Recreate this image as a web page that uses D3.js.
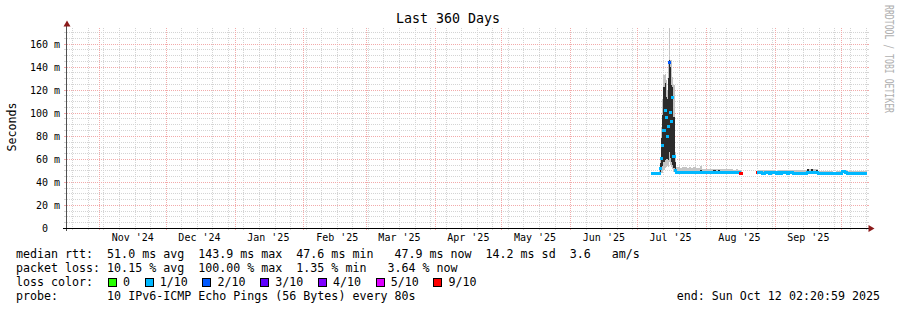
<!DOCTYPE html>
<html>
<head>
<meta charset="utf-8">
<script src="https://cdn.jsdelivr.net/npm/d3@7"></script>
<style>
  body { margin: 0; background: #fff; }
  svg { display: block; font-family: "DejaVu Sans Mono", monospace; }
  text { white-space: pre; }
</style>
</head>
<body>
<svg id="chart" width="897" height="310"></svg>
<script>
// --- data ---
const monthStarts = ["2024-11-01", "2024-12-01", "2025-01-01", "2025-02-01", "2025-03-01", "2025-04-01",
  "2025-05-01", "2025-06-01", "2025-07-01", "2025-08-01", "2025-09-01", "2025-10-01"];
const monthLabels = ["Nov '24", "Dec '24", "Jan '25", "Feb '25", "Mar '25", "Apr '25",
  "May '25", "Jun '25", "Jul '25", "Aug '25", "Sep '25"];
const yTicks = [0, 20, 40, 60, 80, 100, 120, 140, 160];

// rows: [median, min, lo, hi, max, lost pings of 10]  (ms)
const preRows = [
  [47.2, 46.7, 46.9, 47.5, 48.1, 1], [47.0, 46.6, 46.8, 47.3, 47.9, 1], [47.1, 46.7, 46.9, 47.4, 48.2, 1],
  [47.2, 46.8, 47.0, 47.5, 48.4, 1], [47.1, 46.7, 46.9, 47.5, 48.6, 1]
];
const spikeRows = [
  [47.3, 46.8, 47.0, 47.6, 48.3, 1], [47.5, 46.9, 47.1, 48.5, 52, 1], [52, 47, 48, 56, 62, 1],
  [60, 47.5, 50, 78, 88, 1], [72, 48, 54, 98, 112, 1], [85, 50, 57, 122, 133, 1],
  [102, 52, 59, 126, 134, 1], [96, 53, 60, 114, 128, 1], [79, 54, 60, 112, 120, 1],
  [88, 53, 59, 130, 142, 1], [144, 57, 66, 146, 174, 2], [100, 55, 61, 140, 146, 1],
  [92, 53, 57, 124, 146, 1], [113, 51, 55, 122, 131, 1], [62, 49, 52, 96, 124, 1],
  [50, 47.5, 48, 57, 66, 1]
];
const julAugRows = [
  [48.3, 47.4, 47.8, 49.2, 52.6, 1], [48.1, 47.3, 47.7, 49.0, 52.8, 1], [48.0, 47.3, 47.7, 48.9, 52.4, 1],
  [48.2, 47.4, 47.8, 49.1, 52.7, 1], [48.0, 47.3, 47.7, 48.9, 52.5, 1], [47.9, 47.2, 47.6, 48.8, 52.3, 1],
  [48.1, 47.3, 47.7, 49.0, 52.6, 1], [48.0, 47.3, 47.7, 48.9, 52.4, 1], [48.2, 47.4, 47.8, 49.2, 52.7, 1],
  [48.0, 47.3, 47.7, 48.9, 52.2, 1], [47.9, 47.2, 47.6, 48.8, 52.0, 1], [48.4, 47.4, 47.9, 50.0, 53.6, 1],
  [48.0, 47.3, 47.7, 48.8, 51.2, 1], [47.9, 47.2, 47.6, 48.7, 51.0, 1], [48.0, 47.3, 47.7, 48.8, 51.1, 1],
  [47.9, 47.2, 47.6, 48.7, 50.9, 1], [48.0, 47.3, 47.7, 48.8, 51.0, 1], [48.3, 47.3, 47.8, 50.4, 51.4, 1],
  [47.9, 47.2, 47.6, 48.7, 50.8, 1], [48.2, 47.3, 47.8, 50.2, 51.2, 1], [47.9, 47.2, 47.6, 48.7, 50.9, 1],
  [48.0, 47.3, 47.7, 48.8, 51.0, 1], [47.8, 47.2, 47.6, 48.6, 50.8, 1], [47.9, 47.2, 47.6, 48.7, 50.9, 1],
  [48.0, 47.3, 47.7, 48.8, 51.1, 1], [47.9, 47.2, 47.6, 48.7, 50.8, 1], [47.8, 47.2, 47.5, 48.6, 50.7, 1],
  [47.9, 47.2, 47.6, 48.7, 50.9, 1], [47.8, 47.2, 47.5, 48.6, 50.6, 1], [47.7, 47.1, 47.4, 48.4, 50.2, 9]
];
const restartRows = [[47.8, 47.3, 47.5, 48.3, 49.0, 9]];
const autumnRows = [
  [47.8, 47.2, 47.5, 48.6, 50.3, 1], [47.8, 47.2, 47.5, 48.5, 50.2, 1], [47.7, 47.2, 47.5, 48.5, 50.4, 1],
  [47.8, 47.2, 47.5, 48.6, 50.3, 1], [47.8, 47.3, 47.5, 48.6, 50.2, 1], [47.7, 47.2, 47.5, 48.5, 50.3, 1],
  [47.8, 47.2, 47.5, 48.6, 50.4, 1], [47.8, 47.2, 47.5, 48.5, 50.2, 1], [47.0, 46.6, 46.8, 47.8, 49.8, 1],
  [47.8, 47.2, 47.5, 48.6, 50.2, 1], [47.7, 47.2, 47.5, 48.5, 50.1, 1], [47.8, 47.2, 47.5, 48.6, 50.3, 1],
  [47.8, 47.2, 47.5, 48.5, 50.2, 1], [47.7, 47.2, 47.5, 48.5, 50.0, 1], [47.8, 47.2, 47.5, 48.6, 50.2, 1],
  [47.8, 47.2, 47.5, 48.5, 50.1, 1], [47.7, 47.2, 47.4, 48.4, 50.0, 1], [47.7, 47.2, 47.4, 48.4, 49.9, 1],
  [47.7, 47.2, 47.4, 48.5, 50.0, 1], [47.7, 47.2, 47.4, 48.4, 49.9, 1], [47.7, 47.2, 47.4, 48.4, 50.0, 1],
  [47.7, 47.2, 47.4, 48.5, 50.1, 1], [47.9, 47.2, 47.5, 50.8, 51.4, 1], [47.8, 47.2, 47.5, 49.6, 50.8, 1],
  [48.0, 47.2, 47.5, 51.0, 51.6, 1], [47.8, 47.2, 47.5, 49.8, 50.9, 1], [47.8, 47.2, 47.5, 50.5, 51.2, 1],
  [47.6, 47.1, 47.3, 48.2, 49.4, 1], [47.6, 47.1, 47.3, 48.2, 49.3, 1], [47.6, 47.1, 47.3, 48.2, 49.4, 1],
  [47.6, 47.1, 47.3, 48.2, 49.2, 1], [47.6, 47.1, 47.3, 48.2, 49.3, 1], [47.6, 47.1, 47.3, 48.2, 49.4, 1],
  [47.6, 47.1, 47.3, 48.2, 49.3, 1], [47.0, 46.6, 46.8, 47.6, 49.0, 1], [47.6, 47.1, 47.3, 48.2, 49.3, 1],
  [47.6, 47.1, 47.3, 48.2, 49.2, 1], [47.6, 47.1, 47.3, 48.2, 49.3, 1], [48.6, 47.4, 47.8, 49.2, 50.2, 1],
  [48.5, 47.4, 47.8, 49.1, 50.0, 1], [47.6, 47.1, 47.3, 48.2, 49.2, 1], [47.6, 47.1, 47.3, 48.2, 49.1, 1],
  [47.6, 47.1, 47.3, 48.2, 49.2, 1], [47.6, 47.1, 47.3, 48.2, 49.3, 1], [47.6, 47.1, 47.3, 48.2, 49.2, 1],
  [47.6, 47.1, 47.3, 48.2, 49.1, 1], [47.6, 47.1, 47.3, 48.2, 49.2, 1], [47.6, 47.1, 47.3, 48.2, 49.2, 1],
  [47.6, 47.1, 47.3, 48.2, 49.1, 1], [47.6, 47.1, 47.3, 48.2, 49.2, 1]
];
const blockStarts = ["2025-07-08T00:00", "2025-07-10T12:00", "2025-07-18T12:00", "2025-08-24T00:00", "2025-08-24T12:00"];
const blockHours = [12, 12, 24, 12, 24];
const blockRows = [preRows, spikeRows, julAugRows, restartRows, autumnRows];

const lossLabels = ["0", "1/10", "2/10", "3/10", "4/10", "5/10", "9/10"];
const lossColors = ["#26ff00", "#00b8ff", "#0059ff", "#5e00ff", "#7e00ff", "#dd00ff", "#ff0000"];
const statLines = [
  "median rtt:  51.0 ms avg  143.9 ms max  47.6 ms min   47.9 ms now  14.2 ms sd  3.6   am/s",
  "packet loss: 10.15 % avg  100.00 % max  1.35 % min   3.64 % now"
];
const probeLine = "probe:       10 IPv6-ICMP Echo Pings (56 Bytes) every 80s";
const endLine = "end: Sun Oct 12 02:20:59 2025";

// --- layout ---
const plot = { x0: 67, x1: 867, y0: 228, y1: 28 };
const yMax = 173.5;
const gridMinor = "#d4d4d4", gridMajor = "#f2aaaa", arrowCol = "#8b1a1a";
const legFont = 11.65, cw = legFont * 0.602;

const parse = d3.utcParse("%Y-%m-%dT%H:%M");
const parseDay = d3.utcParse("%Y-%m-%d");

const x = d3.scaleUtc()
  .domain([new Date(Date.UTC(2024, 9, 17, 15)), new Date(Date.UTC(2025, 9, 12, 15))])
  .range([plot.x0, plot.x1]);
const y = d3.scaleLinear().domain([0, yMax]).range([plot.y0, plot.y1]);

const samples = [];
blockRows.forEach((rows, b) => {
  const t0 = parse(blockStarts[b]);
  rows.forEach((r, i) => {
    samples.push({
      t0: d3.utcHour.offset(t0, i * blockHours[b]),
      t1: d3.utcHour.offset(t0, (i + 1) * blockHours[b]),
      med: r[0], min: r[1], lo: r[2], hi: r[3], max: r[4], loss: r[5]
    });
  });
});

function lossIndex(n) {
  if (n <= 4) return n;
  if (n <= 5) return 5;
  return 6;
}

const svg = d3.select("#chart");
svg.append("defs").append("clipPath").attr("id", "plotClip")
  .append("rect").attr("x", plot.x0).attr("y", plot.y1)
  .attr("width", plot.x1 - plot.x0).attr("height", plot.y0 - plot.y1);

// grid
const grid = svg.append("g").attr("fill", "none").attr("stroke-width", 1);
const px = v => Math.round(v) + 0.5;

const minorY = d3.range(5, yMax, 5).filter(v => v % 20 !== 0);
const majorY = yTicks.filter(v => v > 0);
const weeks = d3.utcSunday.range(...x.domain());
const months = monthStarts.map(parseDay);

function hLines(vals, col) {
  grid.selectAll(null).data(vals).enter().append("line")
    .attr("x1", plot.x0).attr("x2", plot.x1)
    .attr("y1", d => px(y(d))).attr("y2", d => px(y(d)))
    .attr("stroke", col).attr("stroke-dasharray", "1,1");
  grid.selectAll(null).data(vals).enter().append("path")
    .attr("d", d => `M${plot.x0 - 3},${px(y(d))}H${plot.x0}M${plot.x1},${px(y(d))}H${plot.x1 + 2}`)
    .attr("stroke", col);
}
function vLines(vals, col) {
  grid.selectAll(null).data(vals).enter().append("line")
    .attr("x1", d => px(x(d))).attr("x2", d => px(x(d)))
    .attr("y1", plot.y1).attr("y2", plot.y0)
    .attr("stroke", col).attr("stroke-dasharray", "1,1");
  grid.selectAll(null).data(vals).enter().append("line")
    .attr("x1", d => px(x(d))).attr("x2", d => px(x(d)))
    .attr("y1", plot.y0).attr("y2", plot.y0 + 2)
    .attr("stroke", col);
}
hLines(minorY, gridMinor);
vLines(weeks, gridMinor);
hLines(majorY, gridMajor);
vLines(months, gridMajor);

// smoke + median
const data = svg.append("g").attr("clip-path", "url(#plotClip)").attr("shape-rendering", "crispEdges");
data.selectAll("rect.outer").data(samples).enter().append("rect").attr("class", "outer")
  .attr("x", d => x(d.t0)).attr("width", d => x(d.t1) - x(d.t0))
  .attr("y", d => y(d.max)).attr("height", d => y(d.min) - y(d.max))
  .attr("fill", "#c4c4c4");
data.selectAll("rect.inner").data(samples).enter().append("rect").attr("class", "inner")
  .attr("x", d => x(d.t0)).attr("width", d => x(d.t1) - x(d.t0))
  .attr("y", d => y(d.hi)).attr("height", d => y(d.lo) - y(d.hi))
  .attr("fill", "#2c2c2c");
data.selectAll("rect.med").data(samples).enter().append("rect").attr("class", "med")
  .attr("x", d => x(d.t0) - 1).attr("width", d => x(d.t1) - x(d.t0) + 2)
  .attr("y", d => y(d.med) - 1.5).attr("height", 3)
  .attr("fill", d => lossColors[lossIndex(d.loss)]);

// axes
const axes = svg.append("g");
axes.append("line").attr("x1", 66.5).attr("x2", 66.5).attr("y1", 231).attr("y2", 24)
  .attr("stroke", "#505050");
axes.append("line").attr("x1", 63).attr("x2", 870).attr("y1", 228.5).attr("y2", 228.5)
  .attr("stroke", "#000");
axes.append("path").attr("d", "M63.5,26.5L67,20.5L70.5,26.5Z").attr("fill", arrowCol);
axes.append("path").attr("d", "M868.5,225L874.5,228.5L868.5,232Z").attr("fill", arrowCol);

const yAxis = svg.append("g").attr("transform", `translate(${plot.x0},0)`)
  .call(d3.axisLeft(y).tickValues(yTicks).tickSize(0).tickPadding(7)
    .tickFormat(d => d === 0 ? "0" : d + " m"));
yAxis.select(".domain").remove();
yAxis.selectAll("text").attr("font-family", "DejaVu Sans Mono").attr("font-size", 10)
  .attr("fill", "#000").attr("dy", "0.38em");
yAxis.selectAll("text").filter(d => d === 0).attr("dx", "-1.2em");

const labelDates = months.slice(0, monthLabels.length).map(d => d3.utcDay.offset(d, 15));
const xAxis = svg.append("g").attr("transform", `translate(0,${plot.y0})`)
  .call(d3.axisBottom(x).tickValues(labelDates).tickSize(0).tickPadding(6)
    .tickFormat((d, i) => monthLabels[i]));
xAxis.select(".domain").remove();
xAxis.selectAll("text").attr("font-family", "DejaVu Sans Mono").attr("font-size", 10).attr("fill", "#000");

// titles
svg.append("text").attr("x", 448).attr("y", 23).attr("text-anchor", "middle")
  .attr("font-size", 13.3).text("Last 360 Days");
svg.append("text").attr("transform", "translate(15.5,127) rotate(-90)").attr("text-anchor", "middle")
  .attr("font-size", legFont).text("Seconds");
svg.append("text").attr("transform", "translate(884.5,5) rotate(90)")
  .attr("font-size", 12.5).attr("fill", "#b0b0b0")
  .attr("textLength", 108).attr("lengthAdjust", "spacingAndGlyphs")
  .text("RRDTOOL / TOBI OETIKER");

// legend
const leg = svg.append("g").attr("font-size", legFont).attr("fill", "#000");
const lineY = [258.3, 272.3, 286.3, 300.3];
statLines.forEach((s, i) => leg.append("text").attr("x", 16).attr("y", lineY[i]).text(s));
leg.append("text").attr("x", 16).attr("y", lineY[2]).text("loss color:");
let bx = 16 + 13 * cw + 0.8;
lossLabels.forEach((lab, i) => {
  leg.append("rect").attr("x", Math.round(bx) + 0.5).attr("y", 278.5).attr("width", 8).attr("height", 8)
    .attr("fill", lossColors[i]).attr("stroke", "#000").attr("stroke-width", 1);
  leg.append("text").attr("x", bx + 15).attr("y", lineY[2]).text(lab);
  bx += 15 + lab.length * cw + 14.7;
});
leg.append("text").attr("x", 16).attr("y", lineY[3]).text(probeLine);
leg.append("text").attr("x", 880).attr("y", lineY[3]).attr("text-anchor", "end").text(endLine);
</script>
</body>
</html>
